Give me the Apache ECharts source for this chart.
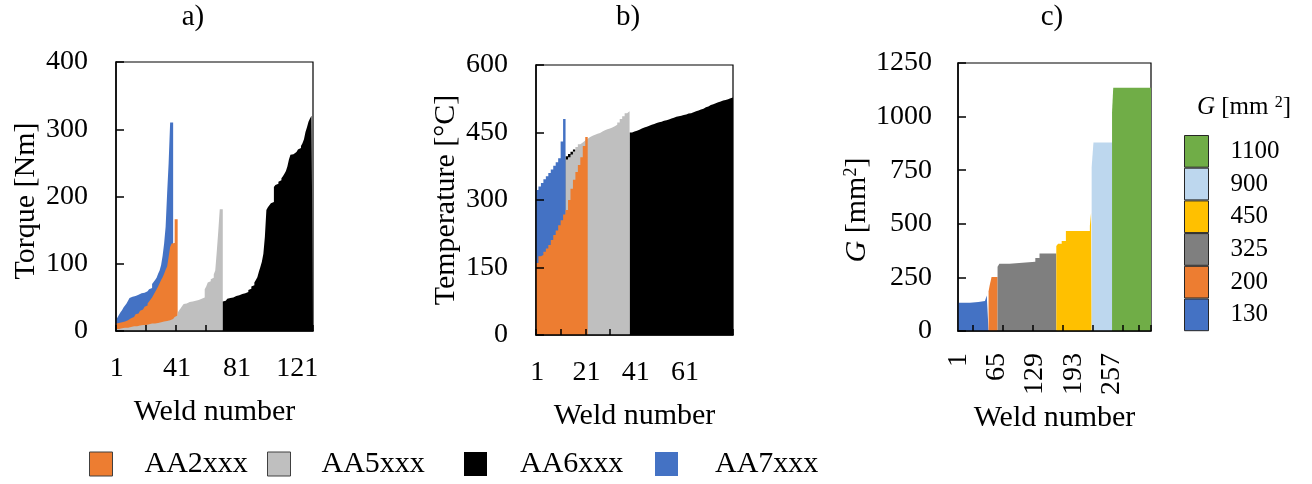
<!DOCTYPE html>
<html><head><meta charset="utf-8">
<script src="https://cdn.jsdelivr.net/npm/echarts@6/dist/echarts.min.js"></script>
<style>html,body{margin:0;padding:0;background:#fff}#c{width:1312px;height:484px}</style>
</head><body><div id="c"></div>
<script>
const FONT = '"Liberation Serif", "Times New Roman", serif';

// ---------- Panel a: torque [Nm], sorted per alloy, one value per weld ----------
const torqueAA7 = [17,20,24,28,31,35,38,41,45,49, 51,52,52,53,54,55,56,57,57,58, 59,60,62,64,70,73,76,79,85,90, 98,112,130,155,205,250,310,310];           // welds 1-38
const torqueAA2 = [11,12,13,13,14,14,15,16,18,19, 20,21,23,25,26,28,30,32,34,36, 38,41,44,47,50,54,58,62,66,71, 76,80,85,91,96,110,125,130,131,166, 166];   // welds 1-41
const torqueAA5 = [3,3,4,4,4,5,5,5,6,6, 6,7,7,7,8,8,8,9,9,9, 10,10,10,11,11,11,12,12,12,13, 13,14,14,15,15,16,17,18,19,21,
                   23,27,31,34,37,40,41,42,43,43, 44,44,45,46,46,47,48,49,50,62, 66,72,74,77,79,84,90,118,148,181,181];                         // welds 1-71
const torqueAA6 = [44,45,46,48,49,50,50,51,52,53, 53,54,55,55,56,57,58,61,63,66, 68,72,76,80,88,95,103,115,140,180,
                   184,187,190,192,214,217,219,222,224,227, 230,234,238,245,255,262,263,265,266,268, 270,272,275,279,285,296,303,311,316,320];     // welds 72-131
const torqueAA6Start = 72;

// ---------- Panel b: temperature [°C] ----------
const tempAA2 = [160,175,178,185,192,200,211,222,232,244, 255,268,278,300,325,345,362,378,395,420, 440];   // welds 1-21
const tempAA7 = [322,330,338,346,353,360,368,376,384,393,430,480];                                       // welds 1-12
const tempAA5 = [390,395,401,408,418,424,428,432,436,440, 443,445,447,449,452,455,457,459,461,464, 467,472,480,486,493,497]; // welds 13-38
const tempAA5Start = 13;
const tempAA6Low = [397,402,407,412];   // welds 13-16 (visible sliver)
const tempAA6LowStart = 13;
const tempAA6 = [450,452,454,456,459,461,463,465,467,469, 471,473,474,476,477,479,481,483,485,486,
                 487,489,490,492,493,495,497,499,501,503, 506,508,511,513,515,517,519,521,522,524, 526,528]; // welds 39-80
const tempAA6Start = 39;

// ---------- Panel c: G [mm²], runs [firstWeld, lastWeld, value] ----------
const g130  = [[1,20,132],[21,34,135],[35,45,140],[46,48,148],[49,51,165]];
const g200  = [[52,53,185],[54,56,215],[57,66,252]];
const g325  = [[67,69,300],[70,86,314],[87,129,323],[130,136,341],[137,164,361]];
const g450  = [[165,167,397],[168,173,407],[174,180,420],[181,220,466],[221,221,490],[222,222,520],[223,223,550]];
const g900  = [[224,226,765],[227,257,879]];
const g1100 = [[258,259,1020],[260,322,1134]];

// ---------- axes / categories ----------
const nA = 131, nB = 80, nC = 322;
const weldsA = Array.from({length: nA}, (_, i) => String(i + 1));
const weldsB = Array.from({length: nB}, (_, i) => String(i + 1));
const weldsC = Array.from({length: nC}, (_, i) => String(i + 1));
const ticksC = [25, 75, 125, 175, 225, 275, 302];
const alloyNames = ['AA2xxx', 'AA5xxx', 'AA6xxx', 'AA7xxx'];
const gNames = ['1100', '900', '450', '325', '200', '130'];

const C = {AA2:'#ED7D31', AA5:'#BFBFBF', AA6:'#000000', AA7:'#4472C4',
           g130:'#4472C4', g200:'#ED7D31', g325:'#7F7F7F', g450:'#FFC000', g900:'#BDD7EE', g1100:'#70AD47'};

function stepPoints(startWeld, values) {
  const pts = values.map((v, i) => [startWeld - 1 + i, v]);
  pts.push([startWeld - 1 + values.length, values[values.length - 1]]);
  return pts;
}
function runPoints(runs) {
  const pts = runs.map(r => [r[0] - 1, r[2]]);
  const last = runs[runs.length - 1];
  pts.push([last[1], last[2]]);
  return pts;
}
function area(name, color, xi, yi, data, z) {
  return {type:'line', name, xAxisIndex:xi, yAxisIndex:yi, data, step:'end',
    symbol:'none', showSymbol:false, silent:true, animation:false, z,
    color, itemStyle:{color}, lineStyle:{width:0, opacity:0, color},
    areaStyle:{color, opacity:1}};
}

const tickLbl = {color:'#000', fontFamily:FONT, fontSize:28};
function valX(grid, max) {
  return {type:'value', gridIndex:grid, min:0, max, show:false, position:'top'};
}
function catX(grid, data, labelFn, tickFn, extra) {
  return Object.assign({type:'category', gridIndex:grid, data, position:'bottom', boundaryGap:true, z:10,
    axisLine:{show:true, lineStyle:{color:'#000', width:1.5}},
    axisTick:{show:true, inside:true, length:6, interval:tickFn, lineStyle:{color:'#000', width:1.5}},
    axisLabel:Object.assign({interval:labelFn, margin:24}, tickLbl),
    splitLine:{show:false},
    name:'Weld number', nameLocation:'middle', nameGap:66,
    nameTextStyle:{color:'#000', fontFamily:FONT, fontSize:30}}, extra || {});
}
function valY(grid, max, interval, name, gap, margin, nameExtra) {
  return {type:'value', gridIndex:grid, min:0, max, interval, z:10,
    axisLine:{show:true, lineStyle:{color:'#000', width:1.5}},
    axisTick:{show:true, inside:true, length:8, lineStyle:{color:'#000', width:1.5}},
    axisLabel:Object.assign({margin, formatter:(v) => String(v)}, tickLbl),
    splitLine:{show:false},
    name, nameLocation:'middle', nameRotate:90, nameGap:gap,
    nameTextStyle:Object.assign({color:'#000', fontFamily:FONT, fontSize:30}, nameExtra || {})};
}

const gridBase = {show:true, borderColor:'#000', borderWidth:1.2, backgroundColor:'transparent', containLabel:false, outerBoundsMode:'none'};

function legendItem(name, left, pad, border) {
  return {show:true, data:[name], left, top:449, padding:0, icon:'rect', itemWidth:23, itemHeight:24,
    selectedMode:false,
    itemStyle:{borderColor: border ? '#404040' : 'transparent', borderWidth: border ? 1 : 0},
    textStyle:{color:'#000', fontFamily:FONT, fontSize:30, lineHeight:30, padding:[0,0,0,pad]}};
}

const option = {
  backgroundColor:'#fff',
  animation:false,
  grid:[
    Object.assign({left:116, top:62, width:197, height:269}, gridBase),
    Object.assign({left:536, top:65, width:197, height:270}, gridBase),
    Object.assign({left:958, top:63, width:193, height:268}, gridBase)
  ],
  xAxis:[
    valX(0, nA),
    catX(0, weldsA, (i) => i % 40 === 0, (i) => i % 20 === 0),
    valX(1, nB),
    catX(1, weldsB, (i) => i % 20 === 0, (i) => i % 10 === 0),
    valX(2, nC),
    catX(2, weldsC, (i) => i % 64 === 0 && i < 300, (i) => ticksC.indexOf(i) >= 0,
         {axisLabel:Object.assign({interval:(i) => i % 64 === 0 && i < 300, rotate:90, margin:22}, tickLbl)})
  ],
  yAxis:[
    valY(0, 400, 100, 'Torque [Nm]', 75, 28, {padding:[0,9,0,0]}),
    valY(1, 600, 150, 'Temperature [°C]', 75, 28),
    valY(2, 1250, 250, '{i|G} [mm{s|2}]', 77, 26, {padding:[0,26,0,0],
      rich:{i:{fontStyle:'italic', fontFamily:FONT, fontSize:30, color:'#000'},
            s:{fontFamily:FONT, fontSize:18, color:'#000', verticalAlign:'top'}}})
  ],
  legend:[
    legendItem('AA2xxx', 89, 27, true),
    legendItem('AA5xxx', 267, 26, true),
    legendItem('AA6xxx', 464, 28, false),
    legendItem('AA7xxx', 655, 32, false),
    {show:true, data:gNames, orient:'vertical', left:1184, top:135, padding:0, icon:'rect',
      itemWidth:24, itemHeight:31.7, itemGap:0, selectedMode:false,
      itemStyle:{borderColor:'#262626', borderWidth:1},
      textStyle:{color:'#000', fontFamily:FONT, fontSize:25, lineHeight:31.7, padding:[0,0,0,17]}}
  ],
  graphic:[
    {type:'text', x:193, y:17, style:{text:'a)', fill:'#000', font:'29px ' + FONT, align:'center', verticalAlign:'middle', textAlign:'center', textVerticalAlign:'middle'}},
    {type:'text', x:628, y:17, style:{text:'b)', fill:'#000', font:'29px ' + FONT, align:'center', verticalAlign:'middle', textAlign:'center', textVerticalAlign:'middle'}},
    {type:'text', x:1052, y:17, style:{text:'c)', fill:'#000', font:'29px ' + FONT, align:'center', verticalAlign:'middle', textAlign:'center', textVerticalAlign:'middle'}},
    {type:'text', x:1244, y:107, style:{text:'{i|G} [mm {s|2}]', fill:'#000', font:'25px ' + FONT,
      align:'center', verticalAlign:'middle', textAlign:'center', textVerticalAlign:'middle',
      rich:{i:{fontStyle:'italic', fontFamily:FONT, fontSize:25, fill:'#000'},
            s:{fontFamily:FONT, fontSize:16, fill:'#000', verticalAlign:'top'}}}}
  ],
  series:[
    // panel a (back to front)
    area('AA7xxx', C.AA7, 0, 0, stepPoints(1, torqueAA7), 2),
    area('AA2xxx', C.AA2, 0, 0, stepPoints(1, torqueAA2), 3),
    area('AA5xxx', C.AA5, 0, 0, stepPoints(1, torqueAA5), 4),
    area('AA6xxx', C.AA6, 0, 0, stepPoints(torqueAA6Start, torqueAA6), 5),
    // panel b
    area('AA6xxx', C.AA6, 2, 1, stepPoints(tempAA6LowStart, tempAA6Low), 2),
    area('AA6xxx', C.AA6, 2, 1, stepPoints(tempAA6Start, tempAA6), 2),
    area('AA5xxx', C.AA5, 2, 1, stepPoints(tempAA5Start, tempAA5), 3),
    area('AA7xxx', C.AA7, 2, 1, stepPoints(1, tempAA7), 4),
    area('AA2xxx', C.AA2, 2, 1, stepPoints(1, tempAA2), 5),
    // panel c
    area('130', C.g130, 4, 2, runPoints(g130), 3),
    area('200', C.g200, 4, 2, runPoints(g200), 3),
    area('325', C.g325, 4, 2, runPoints(g325), 3),
    area('450', C.g450, 4, 2, runPoints(g450), 3),
    area('900', C.g900, 4, 2, runPoints(g900), 3),
    area('1100', C.g1100, 4, 2, runPoints(g1100), 3)
  ]
};

const chart = echarts.init(document.getElementById('c'), null, {renderer:'canvas', width:1312, height:484});
chart.setOption(option);
</script>
</body></html>
